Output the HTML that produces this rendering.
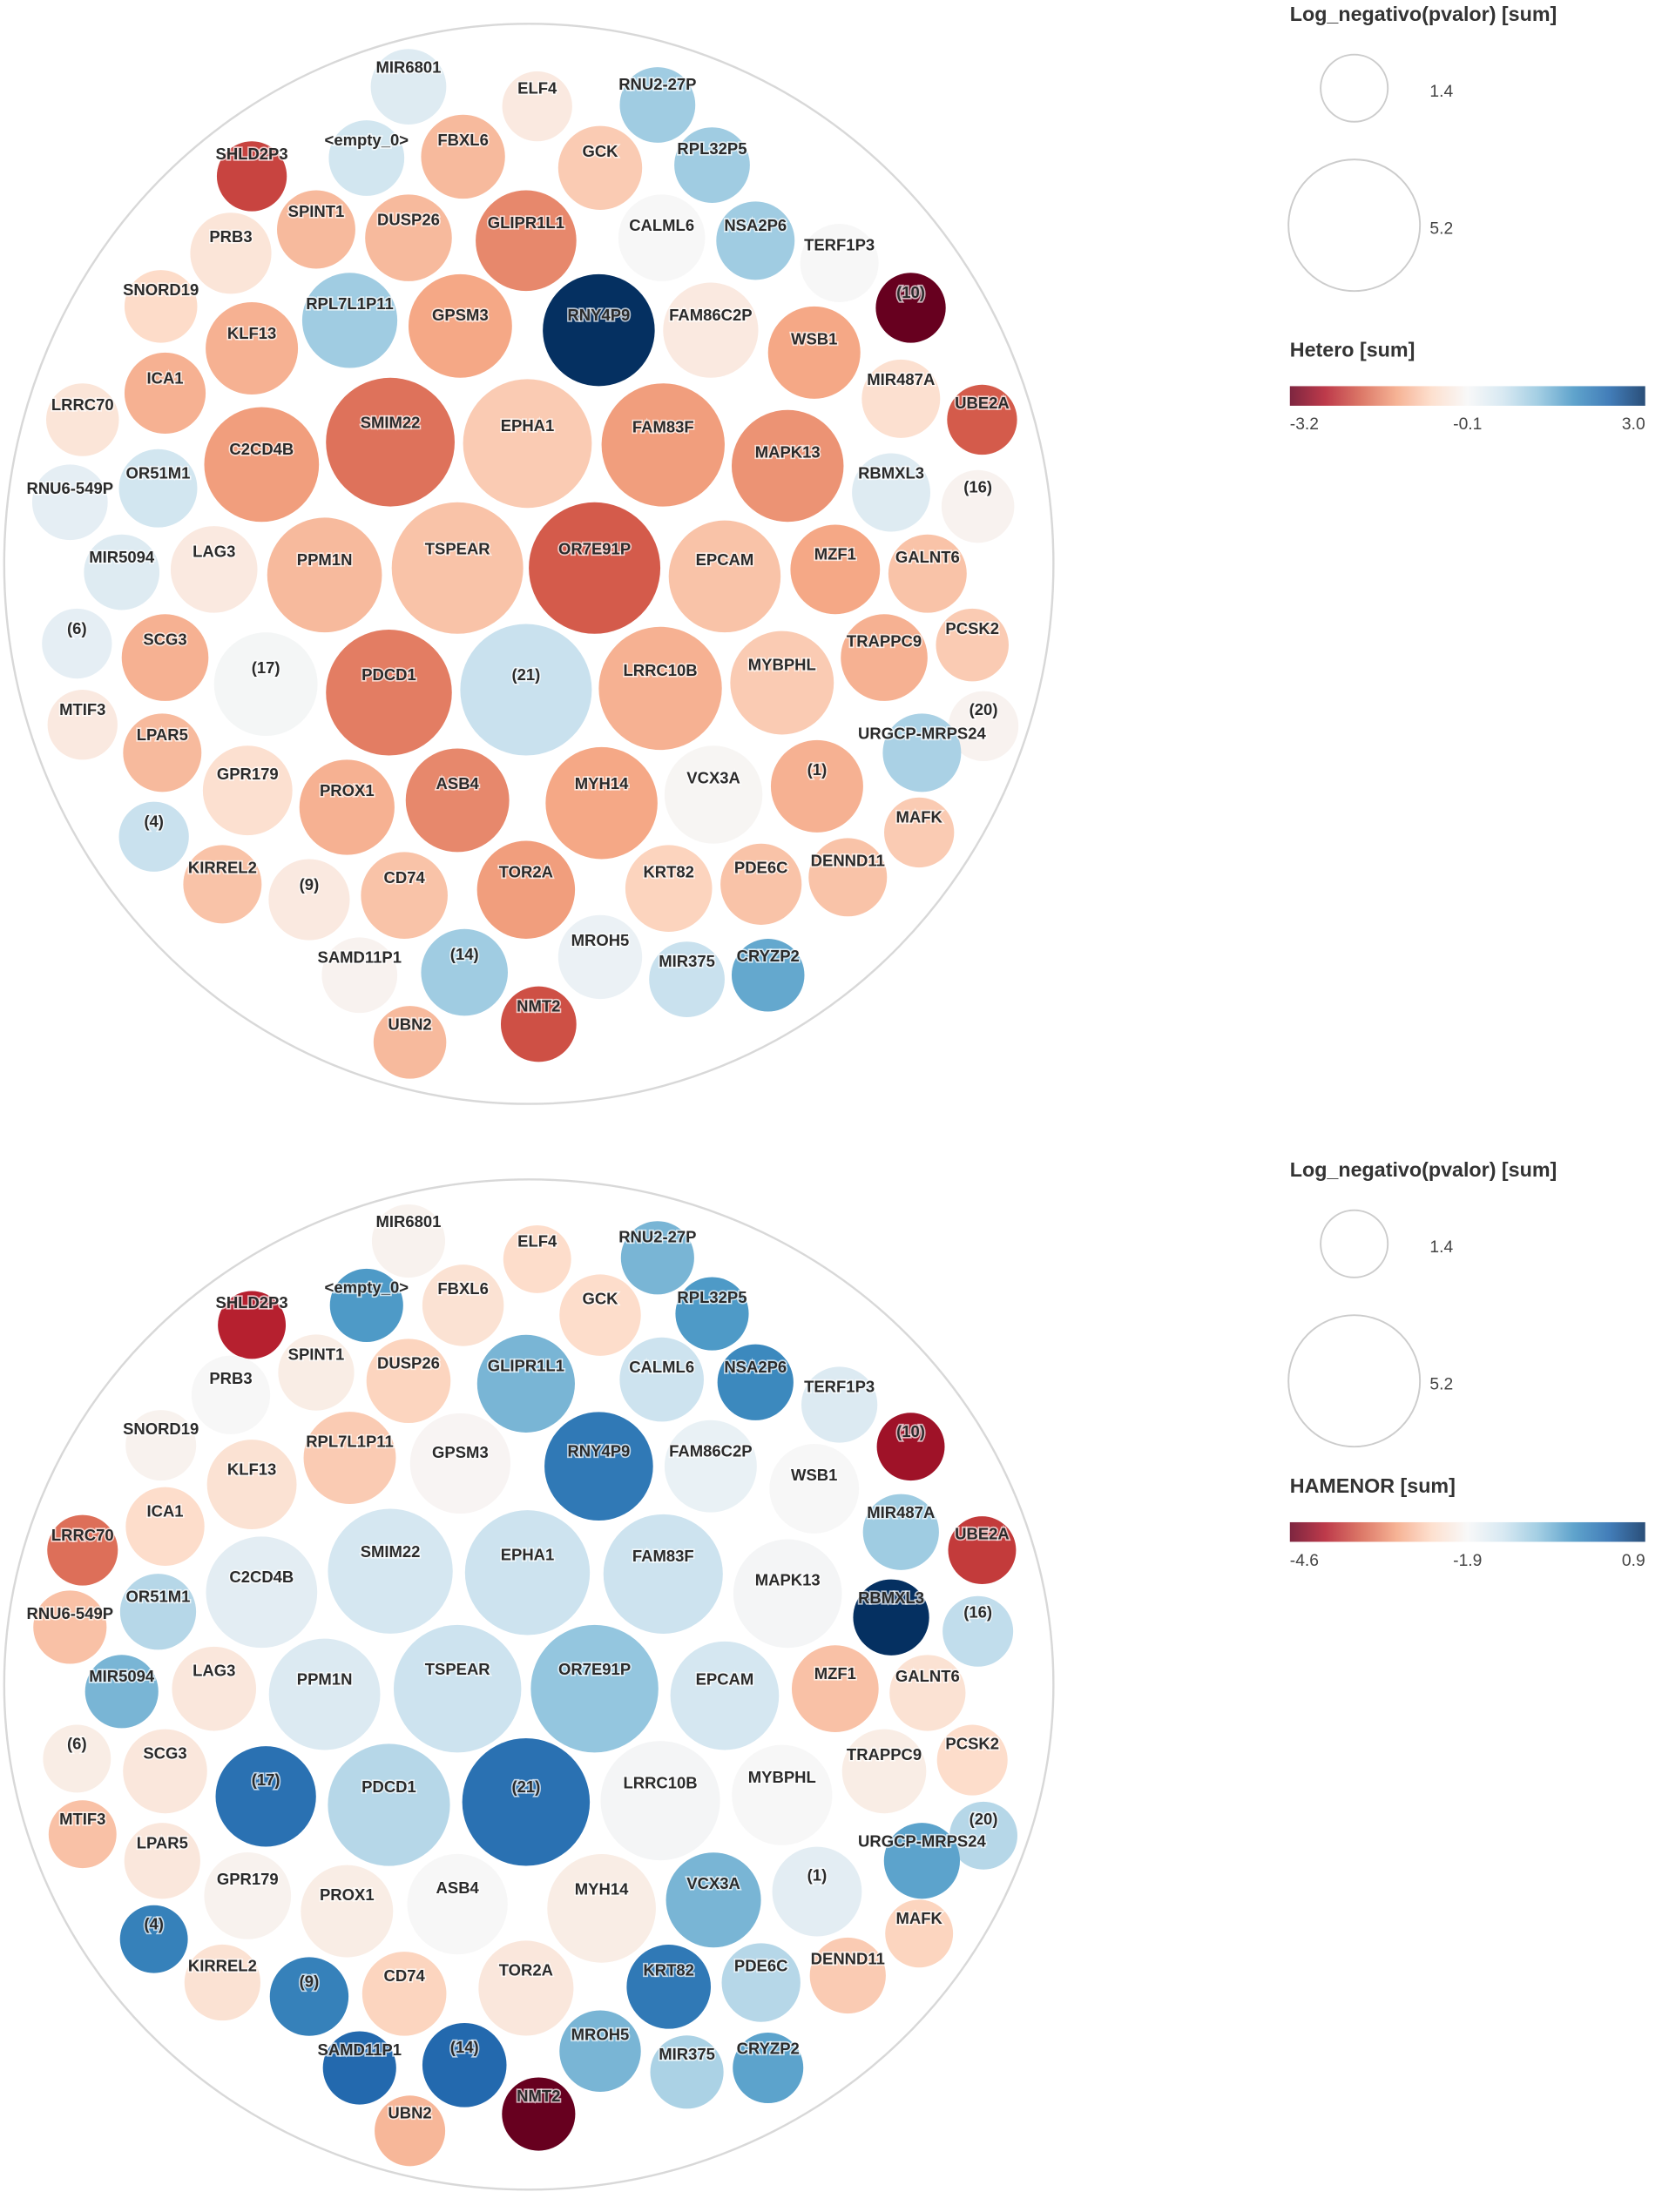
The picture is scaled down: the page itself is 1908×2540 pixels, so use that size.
<!DOCTYPE html>
<html><head><meta charset="utf-8"><style>
html,body{margin:0;padding:0;background:#fff;}
svg{display:block;}
text{font-family:"Liberation Sans",Arial,sans-serif;}
.lbl{font-weight:bold;font-size:11.5px;fill:#2a2a2a;stroke:#fff;stroke-width:2px;paint-order:stroke;stroke-opacity:.7;text-anchor:middle;dominant-baseline:middle;}
</style></head><body>
<svg id="chart" width="1908" height="2540" viewBox="0 0 1188 1581" preserveAspectRatio="none" xmlns="http://www.w3.org/2000/svg">
<g id="top"></g>
<g id="bot"></g>
<g id="leg"></g>
</svg>
<script>
const names=["MIR6801","ELF4","RNU2-27P","SHLD2P3","<empty_0>","FBXL6","GCK","RPL32P5","SPINT1","DUSP26","GLIPR1L1","CALML6","NSA2P6","TERF1P3","PRB3","SNORD19","(10)","RPL7L1P11","GPSM3","RNY4P9","FAM86C2P","WSB1","KLF13","ICA1","LRRC70","MIR487A","UBE2A","SMIM22","EPHA1","FAM83F","MAPK13","C2CD4B","OR51M1","RNU6-549P","RBMXL3","(16)","MIR5094","LAG3","PPM1N","TSPEAR","OR7E91P","EPCAM","MZF1","GALNT6","(6)","SCG3","(17)","PDCD1","(21)","LRRC10B","MYBPHL","TRAPPC9","PCSK2","MTIF3","(20)","LPAR5","URGCP-MRPS24","GPR179","PROX1","ASB4","MYH14","VCX3A","(1)","(4)","MAFK","KIRREL2","(9)","CD74","TOR2A","KRT82","PDE6C","DENND11","MROH5","SAMD11P1","(14)","MIR375","CRYZP2","NMT2","UBN2"];
// bubble size (radius units) approximating Log_negativo(pvalor)
const sizes=[27,25,27,25,27,30,30,27,28,31,36,31,28,28,29,26,25,34,37,40,34,33,33,29,26,28,25,46,46,44,40,41,28,27,28,26,27,31,41,47,47,40,32,28,25,31,37,45,47,44,37,31,26,25,25,28,28,32,34,37,40,35,33,25,25,28,29,31,35,31,29,28,30,27,31,27,26,27,26];
const hetero=[0.3,-0.4,1.0,-2.2,0.5,-1.1,-0.9,1.0,-1.1,-1.1,-1.6,-0.1,1.0,-0.1,-0.5,-0.7,-3.2,1.0,-1.3,3.0,-0.4,-1.3,-1.2,-1.2,-0.5,-0.6,-2.0,-1.8,-0.9,-1.4,-1.5,-1.4,0.5,0.2,0.3,-0.2,0.3,-0.4,-1.1,-1.0,-2.0,-1.0,-1.3,-1.0,0.2,-1.2,-0.05,-1.7,0.6,-1.2,-0.9,-1.2,-0.9,-0.4,-0.2,-1.1,0.9,-0.6,-1.2,-1.6,-1.3,-0.15,-1.2,0.6,-0.9,-1.0,-0.4,-1.0,-1.4,-0.8,-1.0,-1.0,0.1,-0.2,1.0,0.6,1.5,-2.1,-1.1];
const hamenor=[-2.0,-2.4,-0.6,-4.0,-0.3,-2.3,-2.4,-0.3,-2.1,-2.5,-0.6,-1.3,-0.1,-1.5,-1.9,-2.0,-4.2,-2.6,-1.95,0.1,-1.7,-1.9,-2.3,-2.4,-3.4,-0.9,-3.8,-1.4,-1.3,-1.3,-1.85,-1.6,-1.1,-2.7,0.9,-1.2,-0.6,-2.2,-1.5,-1.3,-0.8,-1.4,-2.7,-2.3,-2.1,-2.2,0.2,-1.1,0.2,-1.85,-1.9,-2.1,-2.4,-2.7,-1.1,-2.2,-0.4,-2.0,-2.1,-1.9,-2.1,-0.6,-1.6,0.0,-2.5,-2.3,0.0,-2.5,-2.2,0.1,-1.1,-2.6,-0.6,0.3,0.3,-1.0,-0.4,-4.6,-2.8];
const heteroTicks=["-3.2","-0.1","3.0"];
const hamenorTicks=["-4.6","-1.9","0.9"];
const sizeTicks=["1.4","5.2"];
// layout (pack positions)
const posX=[292,384,470,180,262,331,429,509,226,292,376,473,540,600,165,115,651,250,329,428,508,582,180,118,59,644,702,279,377,474,563,187,113,50,637,699,87,153,232,327,425,518,597,663,55,118,190,278,376,472,559,632,695,59,703,116,659,177,248,327,430,510,584,110,657,159,221,289,376,478,544,606,429,257,332,491,549,385,293];
const labTop=[49,64,61,111,101,101,109,107,152,158,160,162,162,176,170,208,210,218,226,226,226,243,239,271,290,272,289,303,305,306,324,322,339,350,339,349,399,395,401,393,393,401,397,399,450,458,478,483,483,480,476,459,450,508,508,526,525,554,566,561,561,557,551,588,585,621,633,628,624,624,621,616,673,685,683,688,684,720,733];
const labBot=[874,888,885,932,921,922,929,928,969,975,977,978,978,992,986,1022,1024,1031,1039,1038,1038,1055,1051,1081,1098,1082,1097,1110,1112,1113,1130,1128,1142,1154,1143,1153,1199,1195,1201,1194,1194,1201,1197,1199,1247,1254,1273,1278,1278,1275,1271,1255,1247,1301,1301,1318,1317,1344,1355,1350,1351,1347,1341,1376,1372,1406,1417,1413,1409,1409,1406,1401,1455,1466,1464,1469,1465,1499,1511];
const cyTop=[62,76,75,126,113,112,120,118,164,170,172,170,172,188,181,219,220,229,233,236,236,252,249,281,300,285,300,316,317,318,333,332,349,359,352,362,409,407,411,406,406,412,407,410,460,470,489,495,493,492,488,470,461,518,519,538,538,565,577,572,574,568,562,598,595,632,643,640,636,635,632,627,684,697,695,700,697,732,745];
const RDBU=["#67001f","#b2182b","#d6604d","#f4a582","#fddbc7","#f7f7f7","#d1e5f0","#92c5de","#4393c3","#2166ac","#053061"];
function hex(h){return [1,3,5].map(i=>parseInt(h.substr(i,2),16));}
function cmap(v,mn,md,mx){let t=v<md?0.5*(v-mn)/(md-mn):0.5+0.5*(v-md)/(mx-md);t=Math.max(0,Math.min(1,t));const f=t*10,i=Math.min(9,Math.floor(f)),u=f-i;const a=hex(RDBU[i]),b=hex(RDBU[i+1]);return "rgb("+a.map((c,k)=>Math.round(c+(b[k]-c)*u)).join(",")+")";}
const NS="http://www.w3.org/2000/svg";
function mk(tag,attrs,parent){const e=document.createElementNS(NS,tag);for(const k in attrs)e.setAttribute(k,attrs[k]);parent.appendChild(e);return e;}
function drawChart(g,cx,cy,RX,RY,vals,mn,md,mx,labY,rs){
  const outer=mk("ellipse",{cx:cx,cy:cy,rx:RX,ry:RY,fill:"none",stroke:"#d8d8d8","stroke-width":1.5},g);
  
  
  names.forEach((n,i)=>{
    const off=cyTop[i]-labTop[i];
    const y=labY[i]+off;
    const c=mk("circle",{cx:posX[i],cy:y,r:sizes[i]*rs,fill:cmap(vals[i],mn,md,mx)},g);
    
    
    const t=mk("text",{x:posX[i],y:labY[i],"class":"lbl"},g);
    t.textContent=n;
    
    
  });
}
drawChart(document.getElementById("top"),378,403,375,386,hetero,-3.2,-0.1,3.0,labTop,1);
drawChart(document.getElementById("bot"),378,1204,375,361,hamenor,-4.6,-1.9,0.9,labBot,0.97);
function legend(y0,title2,ticks,mn,md,mx,gid){
  const L=document.getElementById("leg");
  const g=mk("g",{},L);
  
  
  const t1=mk("text",{x:922,y:y0+15,"font-size":14.5,"font-weight":"bold",fill:"#333"},g);t1.textContent="Log_negativo(pvalor) [sum]";
  
  
  const c1=mk("circle",{cx:968,cy:y0+63,r:24,fill:"none",stroke:"#ccc","stroke-width":1.2},g);
  
  
  const c2=mk("circle",{cx:968,cy:y0+161,r:47,fill:"none",stroke:"#ccc","stroke-width":1.2},g);
  
  
  const s1=mk("text",{x:1022,y:y0+69,"font-size":12,fill:"#444"},g);s1.textContent=sizeTicks[0];
  
  
  const s2=mk("text",{x:1022,y:y0+167,"font-size":12,fill:"#444"},g);s2.textContent=sizeTicks[1];
  
  
  const ty=gid==="hetero"?y0+255:y0+241;
  const t2=mk("text",{x:922,y:ty,"font-size":14.5,"font-weight":"bold",fill:"#333"},g);t2.textContent=title2;
  
  
  const by=ty+21;
  const defs=mk("defs",{},g);const lg=mk("linearGradient",{id:"grad-"+gid,x1:0,x2:1,y1:0,y2:0},defs);
  for(let k=0;k<=20;k++){const v=k<=10?mn+(md-mn)*k/10:md+(mx-md)*(k-10)/10;mk("stop",{offset:(k/20),"stop-color":cmap(v,mn,md,mx)},lg);}
  const bar=mk("rect",{x:922,y:by,width:254,height:14,fill:"url(#grad-"+gid+")","fill-opacity":0.85},g);
  
  
  const anc=["start","middle","end"],xs=[922,1049,1176];
  ticks.forEach((tk,k)=>{const e=mk("text",{x:xs[k],y:by+31,"font-size":12,fill:"#444","text-anchor":anc[k]},g);e.textContent=tk;
    
    });
}
legend(0,"Hetero [sum]",heteroTicks,-3.2,-0.1,3.0,"hetero");
legend(826,"HAMENOR [sum]",hamenorTicks,-4.6,-1.9,0.9,"hamenor");
</script>
</body></html>
